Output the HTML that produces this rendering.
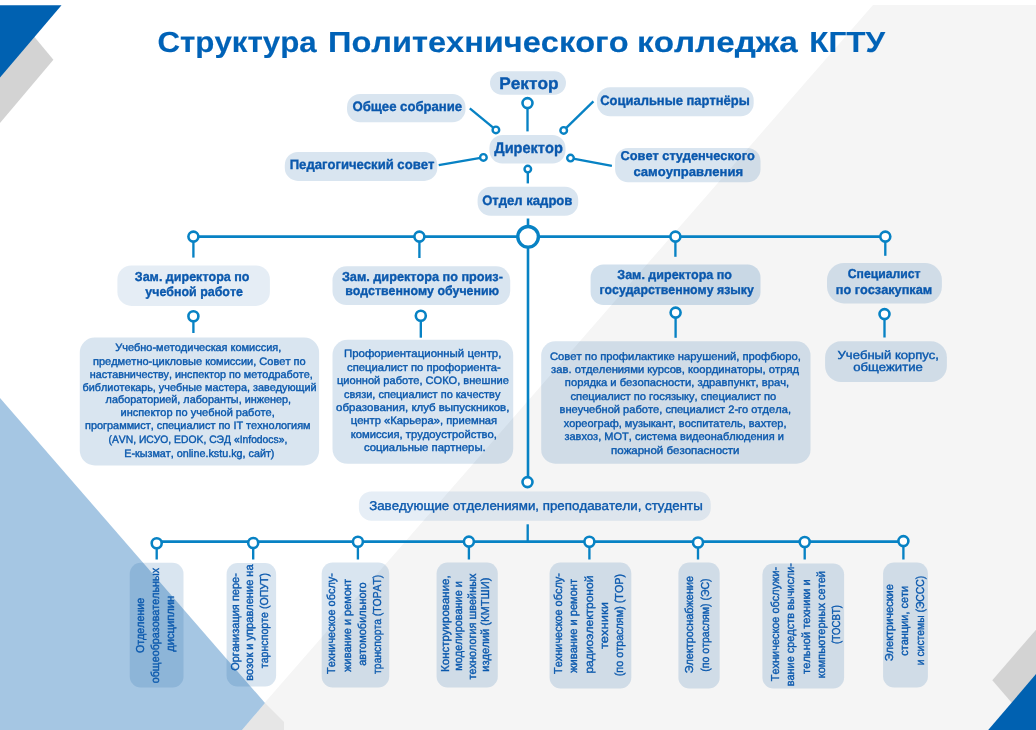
<!DOCTYPE html>
<html><head><meta charset="utf-8"><title>Структура Политехнического колледжа КГТУ</title>
<style>html,body{margin:0;padding:0;background:#fff;width:1036px;height:730px;overflow:hidden;font-family:"Liberation Sans",sans-serif}</style>
</head><body>
<svg width="1036" height="730" viewBox="0 0 1036 730" style="display:block;will-change:transform">
<g><rect x="0" y="0" width="1036" height="730" fill="#ffffff"/><polygon points="873,5 1036,5 1036,730 241,730" fill="#f5f5f5"/><polygon points="265,703 284,722 284,730 242,730" fill="#e6e6e6"/><polygon points="0,398 265,703 242,730 0,730" fill="#a5c6e3"/><polygon points="30.3,31.9 53.4,59.7 0,122.9 0,70" fill="#d3d3d3"/><polygon points="0,5.3 61.5,5.3 0,77.5" fill="#0061b1"/><polygon points="1036,629.7 992.3,680.3 1016,707.7 1036,707.7" fill="#d3d3d3"/><polygon points="1036,674.1 1036,730 988.2,730" fill="#0061b1"/></g>
<g><line x1="527.5" y1="103" x2="527.5" y2="131.4" stroke="#0782c4" stroke-width="2.35"/><circle cx="527.5" cy="103.1" r="5.0" fill="#fff" stroke="#0782c4" stroke-width="2.6"/><line x1="469.8" y1="108.4" x2="495.9" y2="129.9" stroke="#0782c4" stroke-width="2.35"/><circle cx="495.9" cy="129.9" r="3.3" fill="#fff" stroke="#0782c4" stroke-width="2.4"/><line x1="593.4" y1="101.3" x2="563.7" y2="130.4" stroke="#0782c4" stroke-width="2.35"/><circle cx="563.7" cy="130.4" r="3.3" fill="#fff" stroke="#0782c4" stroke-width="2.4"/><line x1="438.7" y1="165.1" x2="483.4" y2="157.4" stroke="#0782c4" stroke-width="2.35"/><circle cx="483.4" cy="157.4" r="3.3" fill="#fff" stroke="#0782c4" stroke-width="2.4"/><line x1="611.9" y1="165.9" x2="570.5" y2="158.1" stroke="#0782c4" stroke-width="2.35"/><circle cx="570.5" cy="158.1" r="3.3" fill="#fff" stroke="#0782c4" stroke-width="2.4"/><line x1="527.8" y1="169" x2="527.8" y2="183.4" stroke="#0782c4" stroke-width="2.35"/><circle cx="527.8" cy="169.1" r="3.3" fill="#fff" stroke="#0782c4" stroke-width="2.4"/><line x1="528" y1="218.5" x2="528" y2="236.5" stroke="#0782c4" stroke-width="2.6"/><line x1="193.4" y1="236.6" x2="885.3" y2="236.6" stroke="#0782c4" stroke-width="2.7"/><line x1="528" y1="236.5" x2="528" y2="482" stroke="#0782c4" stroke-width="2.6"/><line x1="193.4" y1="236.6" x2="193.4" y2="257.6" stroke="#0782c4" stroke-width="2.35"/><circle cx="193.4" cy="236.6" r="5.0" fill="#fff" stroke="#0782c4" stroke-width="2.6"/><line x1="419.4" y1="236.6" x2="419.4" y2="258" stroke="#0782c4" stroke-width="2.35"/><circle cx="419.4" cy="236.6" r="5.0" fill="#fff" stroke="#0782c4" stroke-width="2.6"/><line x1="675.4" y1="236.6" x2="675.4" y2="256.8" stroke="#0782c4" stroke-width="2.35"/><circle cx="675.4" cy="236.6" r="5.0" fill="#fff" stroke="#0782c4" stroke-width="2.6"/><line x1="885.3" y1="236.6" x2="885.3" y2="255.8" stroke="#0782c4" stroke-width="2.35"/><circle cx="885.3" cy="236.6" r="5.0" fill="#fff" stroke="#0782c4" stroke-width="2.6"/><circle cx="528.1" cy="236.8" r="10.3" fill="#fff" stroke="#0782c4" stroke-width="3.4"/><line x1="193.4" y1="316.2" x2="193.4" y2="333" stroke="#0782c4" stroke-width="2.35"/><circle cx="193.4" cy="316.2" r="5.0" fill="#fff" stroke="#0782c4" stroke-width="2.6"/><line x1="420.8" y1="315.8" x2="420.8" y2="337.7" stroke="#0782c4" stroke-width="2.35"/><circle cx="420.8" cy="315.8" r="5.0" fill="#fff" stroke="#0782c4" stroke-width="2.6"/><line x1="675.6" y1="312.6" x2="675.6" y2="337.8" stroke="#0782c4" stroke-width="2.35"/><circle cx="675.6" cy="312.6" r="5.0" fill="#fff" stroke="#0782c4" stroke-width="2.6"/><line x1="884.5" y1="314.1" x2="884.5" y2="337.5" stroke="#0782c4" stroke-width="2.35"/><circle cx="884.5" cy="314.1" r="5.0" fill="#fff" stroke="#0782c4" stroke-width="2.6"/><circle cx="527.5" cy="482.1" r="5.0" fill="#fff" stroke="#0782c4" stroke-width="2.6"/><line x1="527.7" y1="524.3" x2="527.7" y2="541.8" stroke="#0782c4" stroke-width="2.35"/><line x1="156.7" y1="541.6" x2="903.4" y2="541.6" stroke="#0782c4" stroke-width="2.7"/><line x1="156.7" y1="543.2" x2="156.7" y2="559.5" stroke="#0782c4" stroke-width="2.35"/><circle cx="156.7" cy="543.2" r="5.0" fill="#fff" stroke="#0782c4" stroke-width="2.6"/><line x1="253.2" y1="543.0" x2="253.2" y2="559.5" stroke="#0782c4" stroke-width="2.35"/><circle cx="253.2" cy="543.0" r="5.0" fill="#fff" stroke="#0782c4" stroke-width="2.6"/><line x1="357.9" y1="541.7" x2="357.9" y2="559.5" stroke="#0782c4" stroke-width="2.35"/><circle cx="357.9" cy="541.7" r="5.0" fill="#fff" stroke="#0782c4" stroke-width="2.6"/><line x1="468.9" y1="541.6" x2="468.9" y2="559.5" stroke="#0782c4" stroke-width="2.35"/><circle cx="468.9" cy="541.6" r="5.0" fill="#fff" stroke="#0782c4" stroke-width="2.6"/><line x1="589.4" y1="541.8" x2="589.4" y2="559.5" stroke="#0782c4" stroke-width="2.35"/><circle cx="589.4" cy="541.8" r="5.0" fill="#fff" stroke="#0782c4" stroke-width="2.6"/><line x1="698" y1="542.5" x2="698" y2="559.5" stroke="#0782c4" stroke-width="2.35"/><circle cx="698" cy="542.5" r="5.0" fill="#fff" stroke="#0782c4" stroke-width="2.6"/><line x1="804.7" y1="542" x2="804.7" y2="559.5" stroke="#0782c4" stroke-width="2.35"/><circle cx="804.7" cy="542" r="5.0" fill="#fff" stroke="#0782c4" stroke-width="2.6"/><line x1="903.4" y1="541.1" x2="903.4" y2="559.5" stroke="#0782c4" stroke-width="2.35"/><circle cx="903.4" cy="541.1" r="5.0" fill="#fff" stroke="#0782c4" stroke-width="2.6"/></g>
<g><rect x="490" y="71.2" width="76.0" height="23.5" rx="11.7" ry="11.7" fill="rgba(11,88,162,0.155)"/><rect x="347" y="94" width="118.5" height="28.2" rx="13" ry="13" fill="rgba(11,88,162,0.155)"/><rect x="597" y="87.3" width="156.7" height="29.0" rx="13" ry="13" fill="rgba(11,88,162,0.155)"/><rect x="489.4" y="134.9" width="76.1" height="28.6" rx="13" ry="13" fill="rgba(11,88,162,0.155)"/><rect x="284.8" y="152" width="152.5" height="28.9" rx="13" ry="13" fill="rgba(11,88,162,0.155)"/><rect x="615.1" y="148" width="145.4" height="34.3" rx="13" ry="13" fill="rgba(11,88,162,0.155)"/><rect x="477.6" y="186.8" width="100.6" height="29.0" rx="13" ry="13" fill="rgba(11,88,162,0.155)"/><rect x="117.4" y="265.4" width="152.5" height="40.5" rx="14" ry="14" fill="rgba(11,88,162,0.105)"/><rect x="332.5" y="266.3" width="177.7" height="38.7" rx="14" ry="14" fill="rgba(11,88,162,0.155)"/><rect x="590.6" y="264.4" width="169.9" height="40.6" rx="13" ry="13" fill="rgba(11,88,162,0.19)"/><rect x="827" y="262.9" width="114.9" height="40.5" rx="17" ry="17" fill="rgba(11,88,162,0.155)"/><rect x="79.8" y="337.5" width="239.3" height="128.0" rx="15" ry="15" fill="rgba(11,88,162,0.155)"/><rect x="332.5" y="339.8" width="180.7" height="124.0" rx="15" ry="15" fill="rgba(11,88,162,0.155)"/><rect x="541.2" y="341.3" width="269.3" height="122.4" rx="14" ry="14" fill="rgba(11,88,162,0.155)"/><rect x="825.1" y="341.3" width="121.8" height="40.7" rx="16" ry="16" fill="rgba(11,88,162,0.155)"/><rect x="358.9" y="491.4" width="351.8" height="29.3" rx="12.5" ry="12.5" fill="rgba(11,88,162,0.1)"/><rect x="129.8" y="562.7" width="53.7" height="124.7" rx="11" ry="11" fill="rgba(11,88,162,0.155)"/><rect x="226.6" y="563.1" width="49.5" height="123.3" rx="11" ry="11" fill="rgba(11,88,162,0.155)"/><rect x="321.7" y="562.6" width="67.5" height="124.9" rx="11" ry="11" fill="rgba(11,88,162,0.155)"/><rect x="436.6" y="562.6" width="61.2" height="124.9" rx="11" ry="11" fill="rgba(11,88,162,0.155)"/><rect x="549.6" y="562.6" width="81.7" height="125.8" rx="11" ry="11" fill="rgba(11,88,162,0.155)"/><rect x="678.4" y="562.6" width="41.3" height="125.8" rx="11" ry="11" fill="rgba(11,88,162,0.155)"/><rect x="762.4" y="563.5" width="81.7" height="124.9" rx="11" ry="11" fill="rgba(11,88,162,0.155)"/><rect x="883.1" y="562.6" width="44.8" height="124.9" rx="11" ry="11" fill="rgba(11,88,162,0.155)"/></g>
<g font-family="Liberation Sans, sans-serif" style="text-rendering:geometricPrecision;font-kerning:none"><text x="157.42" y="51.5" font-size="29" font-weight="bold" fill="#0062b7" textLength="159.28" lengthAdjust="spacingAndGlyphs" stroke="#0062b7" stroke-width="0.15">Структура</text><text x="328.02" y="51.5" font-size="29" font-weight="bold" fill="#0062b7" textLength="300.55" lengthAdjust="spacingAndGlyphs" stroke="#0062b7" stroke-width="0.15">Политехнического</text><text x="636.99" y="51.5" font-size="29" font-weight="bold" fill="#0062b7" textLength="160.89" lengthAdjust="spacingAndGlyphs" stroke="#0062b7" stroke-width="0.15">колледжа</text><text x="809.30" y="51.5" font-size="29" font-weight="bold" fill="#0062b7" textLength="75.71" lengthAdjust="spacingAndGlyphs" stroke="#0062b7" stroke-width="0.15">КГТУ</text><text x="499.25" y="88.7" font-size="16.7" font-weight="bold" fill="#0a58ad" textLength="59.26" lengthAdjust="spacingAndGlyphs" stroke="#0a58ad" stroke-width="0.35">Ректор</text><text x="352.46" y="111.2" font-size="13.6" font-weight="bold" fill="#0a58ad" textLength="109.69" lengthAdjust="spacingAndGlyphs" stroke="#0a58ad" stroke-width="0.35">Общее собрание</text><text x="600.27" y="105.1" font-size="13.6" font-weight="bold" fill="#0a58ad" textLength="149.54" lengthAdjust="spacingAndGlyphs" stroke="#0a58ad" stroke-width="0.35">Социальные партнёры</text><text x="494.27" y="153.2" font-size="15.3" font-weight="bold" fill="#0a58ad" textLength="68.53" lengthAdjust="spacingAndGlyphs" stroke="#0a58ad" stroke-width="0.35">Директор</text><text x="289.72" y="169.3" font-size="13.6" font-weight="bold" fill="#0a58ad" textLength="144.64" lengthAdjust="spacingAndGlyphs" stroke="#0a58ad" stroke-width="0.35">Педагогический совет</text><text x="620.48" y="160.1" font-size="12.8" font-weight="bold" fill="#0a58ad" textLength="134.32" lengthAdjust="spacingAndGlyphs" stroke="#0a58ad" stroke-width="0.35">Совет студенческого</text><text x="633.49" y="176" font-size="12.8" font-weight="bold" fill="#0a58ad" textLength="109.62" lengthAdjust="spacingAndGlyphs" stroke="#0a58ad" stroke-width="0.35">самоуправления</text><text x="482.16" y="205" font-size="13.6" font-weight="bold" fill="#0a58ad" textLength="90.25" lengthAdjust="spacingAndGlyphs" stroke="#0a58ad" stroke-width="0.35">Отдел кадров</text><text x="134.82" y="281.4" font-size="13" font-weight="bold" fill="#0a58ad" textLength="114.67" lengthAdjust="spacingAndGlyphs" stroke="#0a58ad" stroke-width="0.35">Зам. директора по</text><text x="145.30" y="296.3" font-size="13" font-weight="bold" fill="#0a58ad" textLength="97.62" lengthAdjust="spacingAndGlyphs" stroke="#0a58ad" stroke-width="0.35">учебной работе</text><text x="341.92" y="280.8" font-size="13" font-weight="bold" fill="#0a58ad" textLength="160.99" lengthAdjust="spacingAndGlyphs" stroke="#0a58ad" stroke-width="0.35">Зам. директора по произ-</text><text x="345.14" y="295.3" font-size="13" font-weight="bold" fill="#0a58ad" textLength="153.94" lengthAdjust="spacingAndGlyphs" stroke="#0a58ad" stroke-width="0.35">водственному обучению</text><text x="617.32" y="278.9" font-size="13" font-weight="bold" fill="#0a58ad" textLength="114.67" lengthAdjust="spacingAndGlyphs" stroke="#0a58ad" stroke-width="0.35">Зам. директора по</text><text x="599.44" y="294.3" font-size="13" font-weight="bold" fill="#0a58ad" textLength="154.33" lengthAdjust="spacingAndGlyphs" stroke="#0a58ad" stroke-width="0.35">государственному языку</text><text x="847.80" y="277.9" font-size="13" font-weight="bold" fill="#0a58ad" textLength="72.64" lengthAdjust="spacingAndGlyphs" stroke="#0a58ad" stroke-width="0.35">Специалист</text><text x="835.81" y="293.7" font-size="13" font-weight="bold" fill="#0a58ad" textLength="96.37" lengthAdjust="spacingAndGlyphs" stroke="#0a58ad" stroke-width="0.35">по госзакупкам</text><text x="115.21" y="350.7" font-size="10.8" font-weight="normal" fill="#0a58ad" textLength="166.08" lengthAdjust="spacingAndGlyphs" stroke="#0a58ad" stroke-width="0.38">Учебно-методическая комиссия,</text><text x="92.94" y="364.6" font-size="10.8" font-weight="normal" fill="#0a58ad" textLength="212.73" lengthAdjust="spacingAndGlyphs" stroke="#0a58ad" stroke-width="0.38">предметно-цикловые комиссии, Совет по</text><text x="89.85" y="377.5" font-size="10.8" font-weight="normal" fill="#0a58ad" textLength="222.82" lengthAdjust="spacingAndGlyphs" stroke="#0a58ad" stroke-width="0.38">наставничеству, инспектор по методработе,</text><text x="82.56" y="390.5" font-size="10.8" font-weight="normal" fill="#0a58ad" textLength="234.09" lengthAdjust="spacingAndGlyphs" stroke="#0a58ad" stroke-width="0.38">библиотекарь, учебные мастера, заведующий</text><text x="105.64" y="403.4" font-size="10.8" font-weight="normal" fill="#0a58ad" textLength="185.33" lengthAdjust="spacingAndGlyphs" stroke="#0a58ad" stroke-width="0.38">лабораторией, лаборанты, инженер,</text><text x="120.64" y="416.3" font-size="10.8" font-weight="normal" fill="#0a58ad" textLength="154.15" lengthAdjust="spacingAndGlyphs" stroke="#0a58ad" stroke-width="0.38">инспектор по учебной работе,</text><text x="85.04" y="429.3" font-size="10.8" font-weight="normal" fill="#0a58ad" textLength="225.51" lengthAdjust="spacingAndGlyphs" stroke="#0a58ad" stroke-width="0.38">программист, специалист по IT технологиям</text><text x="108.46" y="443.1" font-size="10.8" font-weight="normal" fill="#0a58ad" textLength="178.87" lengthAdjust="spacingAndGlyphs" stroke="#0a58ad" stroke-width="0.38">(AVN, ИСУО, EDOK, СЭД «Infodocs»,</text><text x="124.22" y="457" font-size="10.8" font-weight="normal" fill="#0a58ad" textLength="150.25" lengthAdjust="spacingAndGlyphs" stroke="#0a58ad" stroke-width="0.38">E-кызмат, online.kstu.kg, сайт)</text><text x="343.97" y="357.2" font-size="10.8" font-weight="normal" fill="#0a58ad" textLength="157.45" lengthAdjust="spacingAndGlyphs" stroke="#0a58ad" stroke-width="0.38">Профориентационный центр,</text><text x="347.12" y="371" font-size="10.8" font-weight="normal" fill="#0a58ad" textLength="153.78" lengthAdjust="spacingAndGlyphs" stroke="#0a58ad" stroke-width="0.38">специалист по профориента-</text><text x="337.03" y="384" font-size="10.8" font-weight="normal" fill="#0a58ad" textLength="171.86" lengthAdjust="spacingAndGlyphs" stroke="#0a58ad" stroke-width="0.38">ционной работе, СОКО, внешние</text><text x="343.93" y="397.7" font-size="10.8" font-weight="normal" fill="#0a58ad" textLength="156.49" lengthAdjust="spacingAndGlyphs" stroke="#0a58ad" stroke-width="0.38">связи, специалист по качеству</text><text x="336.02" y="411" font-size="10.8" font-weight="normal" fill="#0a58ad" textLength="173.42" lengthAdjust="spacingAndGlyphs" stroke="#0a58ad" stroke-width="0.38">образования, клуб выпускников,</text><text x="350.72" y="424.4" font-size="10.8" font-weight="normal" fill="#0a58ad" textLength="146.45" lengthAdjust="spacingAndGlyphs" stroke="#0a58ad" stroke-width="0.38">центр «Карьера», приемная</text><text x="350.74" y="438.1" font-size="10.8" font-weight="normal" fill="#0a58ad" textLength="146.17" lengthAdjust="spacingAndGlyphs" stroke="#0a58ad" stroke-width="0.38">комиссия, трудоустройство,</text><text x="364.02" y="451.1" font-size="10.8" font-weight="normal" fill="#0a58ad" textLength="121.72" lengthAdjust="spacingAndGlyphs" stroke="#0a58ad" stroke-width="0.38">социальные партнеры.</text><text x="549.93" y="359.7" font-size="10.8" font-weight="normal" fill="#0a58ad" textLength="250.88" lengthAdjust="spacingAndGlyphs" stroke="#0a58ad" stroke-width="0.38">Совет по профилактике нарушений, профбюро,</text><text x="551.13" y="372.7" font-size="10.8" font-weight="normal" fill="#0a58ad" textLength="247.96" lengthAdjust="spacingAndGlyphs" stroke="#0a58ad" stroke-width="0.38">зав. отделениями курсов, координаторы, отряд</text><text x="564.82" y="386.1" font-size="10.8" font-weight="normal" fill="#0a58ad" textLength="224.39" lengthAdjust="spacingAndGlyphs" stroke="#0a58ad" stroke-width="0.38">порядка и безопасности, здравпункт, врач,</text><text x="570.53" y="399.5" font-size="10.8" font-weight="normal" fill="#0a58ad" textLength="205.64" lengthAdjust="spacingAndGlyphs" stroke="#0a58ad" stroke-width="0.38">специалист по госязыку, специалист по</text><text x="559.53" y="413.2" font-size="10.8" font-weight="normal" fill="#0a58ad" textLength="231.47" lengthAdjust="spacingAndGlyphs" stroke="#0a58ad" stroke-width="0.38">внеучебной работе, специалист 2-го отдела,</text><text x="563.68" y="426.7" font-size="10.8" font-weight="normal" fill="#0a58ad" textLength="222.81" lengthAdjust="spacingAndGlyphs" stroke="#0a58ad" stroke-width="0.38">хореограф, музыкант, воспитатель, вахтер,</text><text x="564.44" y="440.4" font-size="10.8" font-weight="normal" fill="#0a58ad" textLength="219.53" lengthAdjust="spacingAndGlyphs" stroke="#0a58ad" stroke-width="0.38">завхоз, МОТ, система видеонаблюдения и</text><text x="611.10" y="453.8" font-size="10.8" font-weight="normal" fill="#0a58ad" textLength="128.39" lengthAdjust="spacingAndGlyphs" stroke="#0a58ad" stroke-width="0.38">пожарной безопасности</text><text x="837.55" y="358.6" font-size="11.8" font-weight="normal" fill="#0a58ad" textLength="101.42" lengthAdjust="spacingAndGlyphs" stroke="#0a58ad" stroke-width="0.38">Учебный корпус,</text><text x="853.15" y="371.4" font-size="11.8" font-weight="normal" fill="#0a58ad" textLength="69.74" lengthAdjust="spacingAndGlyphs" stroke="#0a58ad" stroke-width="0.38">общежитие</text><text x="369.16" y="510" font-size="12.8" font-weight="normal" fill="#0a58ad" textLength="333.56" lengthAdjust="spacingAndGlyphs" stroke="#0a58ad" stroke-width="0.38">Заведующие отделениями, преподаватели, студенты</text><text transform="translate(143.6,653.11) rotate(-90)" x="0" y="0" font-size="11.5" font-weight="normal" fill="#0a58ad" stroke="#0a58ad" stroke-width="0.35" textLength="55.28" lengthAdjust="spacingAndGlyphs">Отделение</text><text transform="translate(158.8,683.25) rotate(-90)" x="0" y="0" font-size="11.5" font-weight="normal" fill="#0a58ad" stroke="#0a58ad" stroke-width="0.35" textLength="115.37" lengthAdjust="spacingAndGlyphs">общеобразовательных</text><text transform="translate(174.4,651.81) rotate(-90)" x="0" y="0" font-size="11.5" font-weight="normal" fill="#0a58ad" stroke="#0a58ad" stroke-width="0.35" textLength="56.09" lengthAdjust="spacingAndGlyphs">дисциплин</text><text transform="translate(238.5,670.82) rotate(-90)" x="0" y="0" font-size="11.5" font-weight="normal" fill="#0a58ad" stroke="#0a58ad" stroke-width="0.35" textLength="97.71" lengthAdjust="spacingAndGlyphs">Организация пере-</text><text transform="translate(253.2,680.77) rotate(-90)" x="0" y="0" font-size="11.5" font-weight="normal" fill="#0a58ad" stroke="#0a58ad" stroke-width="0.35" textLength="116.37" lengthAdjust="spacingAndGlyphs">возок и управление на</text><text transform="translate(267.5,668.18) rotate(-90)" x="0" y="0" font-size="11.5" font-weight="normal" fill="#0a58ad" stroke="#0a58ad" stroke-width="0.35" textLength="95.24" lengthAdjust="spacingAndGlyphs">тарнспорте (ОПУТ)</text><text transform="translate(335.4,673.95) rotate(-90)" x="0" y="0" font-size="11.5" font-weight="normal" fill="#0a58ad" stroke="#0a58ad" stroke-width="0.35" textLength="100.83" lengthAdjust="spacingAndGlyphs">Техническое обслу-</text><text transform="translate(351,671.84) rotate(-90)" x="0" y="0" font-size="11.5" font-weight="normal" fill="#0a58ad" stroke="#0a58ad" stroke-width="0.35" textLength="92.93" lengthAdjust="spacingAndGlyphs">живание и ремонт</text><text transform="translate(366,665.87) rotate(-90)" x="0" y="0" font-size="11.5" font-weight="normal" fill="#0a58ad" stroke="#0a58ad" stroke-width="0.35" textLength="83.53" lengthAdjust="spacingAndGlyphs">автомобильного</text><text transform="translate(381,673.88) rotate(-90)" x="0" y="0" font-size="11.5" font-weight="normal" fill="#0a58ad" stroke="#0a58ad" stroke-width="0.35" textLength="99.12" lengthAdjust="spacingAndGlyphs">транспорта (ТОРАТ)</text><text transform="translate(449.4,671.94) rotate(-90)" x="0" y="0" font-size="11.5" font-weight="normal" fill="#0a58ad" stroke="#0a58ad" stroke-width="0.35" textLength="96.57" lengthAdjust="spacingAndGlyphs">Конструирование,</text><text transform="translate(462.4,670.76) rotate(-90)" x="0" y="0" font-size="11.5" font-weight="normal" fill="#0a58ad" stroke="#0a58ad" stroke-width="0.35" textLength="89.61" lengthAdjust="spacingAndGlyphs">моделирование и</text><text transform="translate(475.8,679.49) rotate(-90)" x="0" y="0" font-size="11.5" font-weight="normal" fill="#0a58ad" stroke="#0a58ad" stroke-width="0.35" textLength="106.00" lengthAdjust="spacingAndGlyphs">технология швейных</text><text transform="translate(488.8,671.77) rotate(-90)" x="0" y="0" font-size="11.5" font-weight="normal" fill="#0a58ad" stroke="#0a58ad" stroke-width="0.35" textLength="94.26" lengthAdjust="spacingAndGlyphs">изделий (КМТШИ)</text><text transform="translate(562.4,673.95) rotate(-90)" x="0" y="0" font-size="11.5" font-weight="normal" fill="#0a58ad" stroke="#0a58ad" stroke-width="0.35" textLength="100.83" lengthAdjust="spacingAndGlyphs">Техническое обслу-</text><text transform="translate(577,672.84) rotate(-90)" x="0" y="0" font-size="11.5" font-weight="normal" fill="#0a58ad" stroke="#0a58ad" stroke-width="0.35" textLength="93.93" lengthAdjust="spacingAndGlyphs">живание и ремонт</text><text transform="translate(592.9,673.58) rotate(-90)" x="0" y="0" font-size="11.5" font-weight="normal" fill="#0a58ad" stroke="#0a58ad" stroke-width="0.35" textLength="98.01" lengthAdjust="spacingAndGlyphs">радиоэлектроной</text><text transform="translate(607.9,649.12) rotate(-90)" x="0" y="0" font-size="11.5" font-weight="normal" fill="#0a58ad" stroke="#0a58ad" stroke-width="0.35" textLength="47.02" lengthAdjust="spacingAndGlyphs">техники</text><text transform="translate(623,676.27) rotate(-90)" x="0" y="0" font-size="11.5" font-weight="normal" fill="#0a58ad" stroke="#0a58ad" stroke-width="0.35" textLength="102.44" lengthAdjust="spacingAndGlyphs">(по отраслям) (ТОР)</text><text transform="translate(693.4,673.36) rotate(-90)" x="0" y="0" font-size="11.5" font-weight="normal" fill="#0a58ad" stroke="#0a58ad" stroke-width="0.35" textLength="97.44" lengthAdjust="spacingAndGlyphs">Электроснабжение</text><text transform="translate(709,671.65) rotate(-90)" x="0" y="0" font-size="11.5" font-weight="normal" fill="#0a58ad" stroke="#0a58ad" stroke-width="0.35" textLength="93.20" lengthAdjust="spacingAndGlyphs">(по отраслям) (ЭС)</text><text transform="translate(779.1,681.25) rotate(-90)" x="0" y="0" font-size="11.5" font-weight="normal" fill="#0a58ad" stroke="#0a58ad" stroke-width="0.35" textLength="114.53" lengthAdjust="spacingAndGlyphs">Техническое обслужи-</text><text transform="translate(793.7,686.36) rotate(-90)" x="0" y="0" font-size="11.5" font-weight="normal" fill="#0a58ad" stroke="#0a58ad" stroke-width="0.35" textLength="123.34" lengthAdjust="spacingAndGlyphs">вание средств вычисли-</text><text transform="translate(809.6,673.89) rotate(-90)" x="0" y="0" font-size="11.5" font-weight="normal" fill="#0a58ad" stroke="#0a58ad" stroke-width="0.35" textLength="94.66" lengthAdjust="spacingAndGlyphs">тельной техники и</text><text transform="translate(825,678.14) rotate(-90)" x="0" y="0" font-size="11.5" font-weight="normal" fill="#0a58ad" stroke="#0a58ad" stroke-width="0.35" textLength="107.10" lengthAdjust="spacingAndGlyphs">компьютерных сетей</text><text transform="translate(840.4,643.99) rotate(-90)" x="0" y="0" font-size="11.5" font-weight="normal" fill="#0a58ad" stroke="#0a58ad" stroke-width="0.35" textLength="38.89" lengthAdjust="spacingAndGlyphs">(ТОСВТ)</text><text transform="translate(892.9,661.37) rotate(-90)" x="0" y="0" font-size="11.5" font-weight="normal" fill="#0a58ad" stroke="#0a58ad" stroke-width="0.35" textLength="77.26" lengthAdjust="spacingAndGlyphs">Электрические</text><text transform="translate(908.3,655.77) rotate(-90)" x="0" y="0" font-size="11.5" font-weight="normal" fill="#0a58ad" stroke="#0a58ad" stroke-width="0.35" textLength="70.03" lengthAdjust="spacingAndGlyphs">станции, сети</text><text transform="translate(923.5,665.22) rotate(-90)" x="0" y="0" font-size="11.5" font-weight="normal" fill="#0a58ad" stroke="#0a58ad" stroke-width="0.35" textLength="89.46" lengthAdjust="spacingAndGlyphs">и системы (ЭССС)</text></g>
</svg>
</body></html>
